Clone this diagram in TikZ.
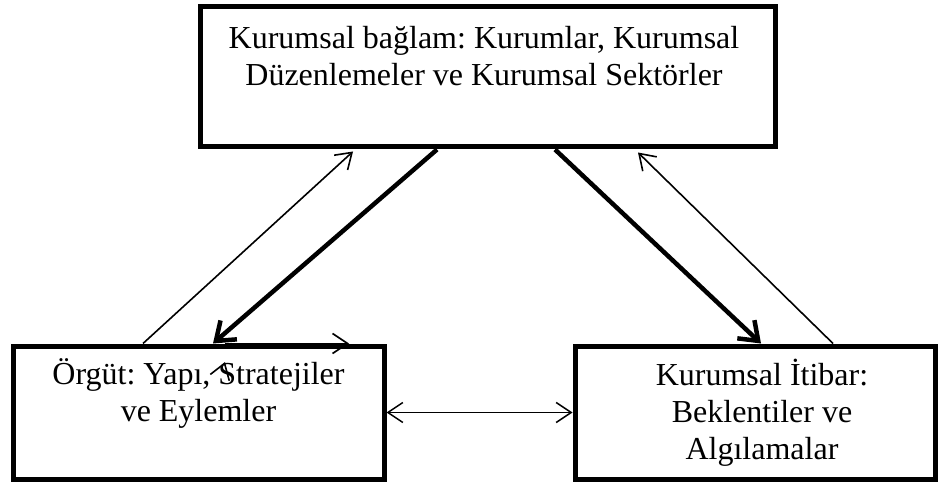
\documentclass[tikz,border=0pt]{standalone}
\usepackage{fontspec}
\setmainfont{Liberation Serif}
\usetikzlibrary{positioning}
\usetikzlibrary{arrows.meta}

\begin{document}
\frenchspacing
\begin{tikzpicture}[x=1pt,y=1pt,>={Straight Barb[length=15pt,width=20pt]},
    box/.style={draw,line width=5pt,minimum width=#1,minimum height=133pt,inner sep=0pt},
    boxtext/.style={align=center,inner sep=0pt,font=\fontsize{32}{37}\selectfont},
    thin arrow/.style={->,line width=1.6pt},
    thick arrow/.style={-{Straight Barb[length=17pt,width=25pt]},line width=4.5pt}]
  \useasboundingbox (0,0) rectangle (941,485);
  \node[box=575pt,minimum height=140pt] (ctx) at (487.5,408) {};
  \node[box=371pt] (org) at (198.5,72.5) {};
  \node[box=360pt] (rep) at (755,72.5) {};
  \node[boxtext,below=21.5pt of ctx.north,xshift=-3.5pt] (ctxtext)
    {Kurumsal bağlam: Kurumlar, Kurumsal\\Düzenlemeler ve Kurumsal Sektörler};
  \node[boxtext,below=15pt of org.north] (orgtext)
    {Örgüt: Yapı, Stratejiler\\ve Eylemler};
  \node[boxtext,below=15pt of rep.north,xshift=7pt] (reptext)
    {Kurumsal İtibar:\\Beklentiler ve\\Algılamalar};
  \coordinate (orgup) at ([xshift=132.5pt]org.north west);
  \coordinate (ctxin) at ([xshift=155.5pt,yshift=-2pt]ctx.south west);
  \coordinate (ctxdownl) at ([xshift=239.5pt]ctx.south west);
  \coordinate (orgin) at ([xshift=202.5pt]org.north west);
  \coordinate (ctxdownr) at ([xshift=357.5pt]ctx.south west);
  \coordinate (repin) at ([xshift=188.5pt]rep.north west);
  \coordinate (repup) at ([xshift=260.5pt]rep.north west);
  \coordinate (ctxinr) at ([xshift=440.5pt,yshift=-3pt]ctx.south west);
  \coordinate (edgel) at ([xshift=214.5pt]org.north west);
  \coordinate (edger) at ([xshift=338.5pt]org.north west);
  \coordinate (tickl) at ([xshift=214.5pt,yshift=-18.5pt]org.north west);
  \coordinate (tickb) at ([xshift=213.5pt,yshift=-21.5pt]org.north west);
  \draw[thin arrow] (orgup) -- (ctxin);
  \draw[thick arrow] (ctxdownl) -- (orgin);
  \draw[thick arrow] (ctxdownr) -- (repin);
  \draw[thin arrow] (repup) -- (ctxinr);
  \draw[thin arrow,<->,line width=1.5pt] (org.east) -- (rep.west);
  \draw[thin arrow] (edgel) -- (edger);
  \draw[thin arrow] (tickb) -- (tickl);
\end{tikzpicture}
\end{document}
